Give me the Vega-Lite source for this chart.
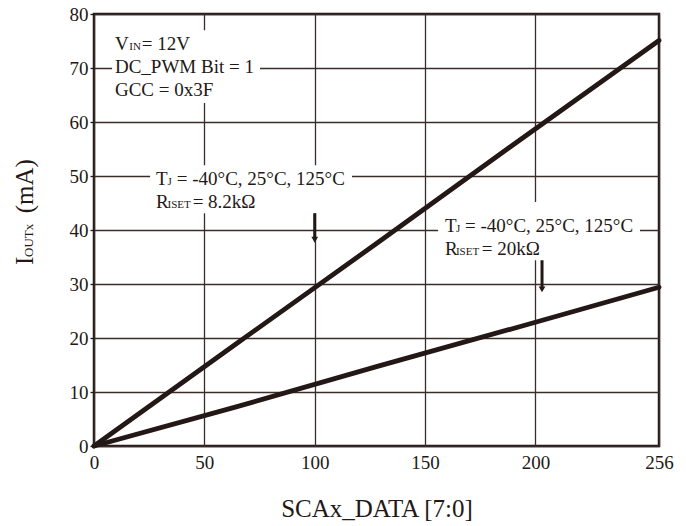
{
  "$schema": "https://vega.github.io/schema/vega-lite/v6.json",
  "width": 565,
  "height": 432,
  "autosize": {"type": "none"},
  "padding": {"left": 94, "top": 14, "right": 27, "bottom": 80},
  "background": "white",
  "datasets": {
    "curves": [
      {"series": "RISET 8.2k", "x": 0, "y": 0},
      {"series": "RISET 8.2k", "x": 64, "y": 18.8},
      {"series": "RISET 8.2k", "x": 128, "y": 37.5},
      {"series": "RISET 8.2k", "x": 192, "y": 56.4},
      {"series": "RISET 8.2k", "x": 256, "y": 75.1},
      {"series": "RISET 20k", "x": 0, "y": 0},
      {"series": "RISET 20k", "x": 64, "y": 7.2},
      {"series": "RISET 20k", "x": 128, "y": 14.7},
      {"series": "RISET 20k", "x": 192, "y": 22.0},
      {"series": "RISET 20k", "x": 256, "y": 29.4}
    ],
    "boxes": [
      {"x": 8.2, "x2": 75.2, "y": 63.5, "y2": 77.0},
      {"x": 25.4, "x2": 116.9, "y": 43.1, "y2": 52.0},
      {"x": 155.9, "x2": 247.4, "y": 34.4, "y2": 45.2}
    ],
    "labels": [
      {"x": 9.5, "y": 73.3, "text": "V"},
      {"x": 21.6, "y": 73.3, "text": "= 12V"},
      {"x": 9.5, "y": 69.1, "text": "DC_PWM Bit = 1"},
      {"x": 9.5, "y": 64.8, "text": "GCC = 0x3F"},
      {"x": 28.1, "y": 48.3, "text": "T"},
      {"x": 37.5, "y": 48.3, "text": "= -40°C, 25°C, 125°C"},
      {"x": 28.1, "y": 44.1, "text": "R"},
      {"x": 44.7, "y": 44.1, "text": "= 8.2kΩ"},
      {"x": 159.0, "y": 39.6, "text": "T"},
      {"x": 168.1, "y": 39.6, "text": "= -40°C, 25°C, 125°C"},
      {"x": 159.0, "y": 35.4, "text": "R"},
      {"x": 175.7, "y": 35.4, "text": "= 20kΩ"}
    ],
    "subs": [
      {"x": 16.0, "y": 73.3, "text": "IN"},
      {"x": 33.3, "y": 48.3, "text": "J"},
      {"x": 33.3, "y": 44.1, "text": "ISET"},
      {"x": 164.0, "y": 39.6, "text": "J"},
      {"x": 164.0, "y": 35.4, "text": "ISET"}
    ],
    "arrows": [
      {"x": 100, "y": 43.1, "y2": 38.6},
      {"x": 203.0, "y": 34.4, "y2": 29.4}
    ],
    "heads": [
      {"x": 100, "y": 38.2},
      {"x": 203.0, "y": 29.0}
    ],
    "ytitle": [
      {"x": -27.6, "y": 33.5, "text": "I"}
    ],
    "ytitlesub": [
      {"x": -27.6, "y": 35.0, "text": "OUTx"}
    ],
    "ytitlerest": [
      {"x": -27.6, "y": 43.1, "text": "(mA)"}
    ]
  },
  "encoding": {
    "x": {
      "field": "x",
      "type": "quantitative",
      "scale": {"domain": [0, 256], "nice": false, "zero": false},
      "axis": {
        "values": [0, 50, 100, 150, 200, 256],
        "ticks": false,
        "tickSize": 0,
        "labelPadding": 7,
        "labelFlush": false,
        "labelOverlap": false,
        "title": "SCAx_DATA [7:0]",
        "titleFontSize": 25,
        "titlePadding": 24,
        "grid": true
      }
    },
    "y": {
      "field": "y",
      "type": "quantitative",
      "scale": {"domain": [0, 80], "nice": false, "zero": false},
      "axis": {
        "values": [0, 10, 20, 30, 40, 50, 60, 70, 80],
        "ticks": true,
        "tickSize": 4,
        "tickWidth": 1.3,
        "labelPadding": 2,
        "labelFlush": false,
        "labelOverlap": false,
        "title": null,
        "grid": true
      }
    }
  },
  "layer": [
    {
      "data": {"name": "boxes"},
      "mark": {"type": "rect", "fill": "white", "strokeWidth": 0},
      "encoding": {"x2": {"field": "x2"}, "y2": {"field": "y2"}}
    },
    {
      "data": {"name": "curves"},
      "mark": {"type": "line", "color": "#231815", "strokeWidth": 4.8, "strokeCap": "round"},
      "encoding": {"detail": {"field": "series"}}
    },
    {
      "data": {"name": "arrows"},
      "mark": {"type": "rule", "color": "#231815", "strokeWidth": 3},
      "encoding": {"y2": {"field": "y2"}}
    },
    {
      "data": {"name": "heads"},
      "mark": {"type": "point", "shape": "triangle-down", "filled": true, "size": 45, "color": "#231815", "opacity": 1},
      "encoding": {}
    },
    {
      "data": {"name": "labels"},
      "mark": {"type": "text", "align": "left", "baseline": "alphabetic", "fontSize": 19, "font": "Liberation Serif", "color": "#231815"},
      "encoding": {"text": {"field": "text"}}
    },
    {
      "data": {"name": "subs"},
      "mark": {"type": "text", "align": "left", "baseline": "alphabetic", "fontSize": 11, "font": "Liberation Serif", "color": "#231815"},
      "encoding": {"text": {"field": "text"}}
    },
    {
      "data": {"name": "ytitle"},
      "mark": {"type": "text", "align": "left", "baseline": "alphabetic", "angle": 270, "fontSize": 25, "font": "Liberation Serif", "color": "#231815"},
      "encoding": {"text": {"field": "text"}}
    },
    {
      "data": {"name": "ytitlesub"},
      "mark": {"type": "text", "align": "left", "baseline": "alphabetic", "angle": 270, "fontSize": 13, "font": "Liberation Serif", "color": "#231815"},
      "encoding": {"text": {"field": "text"}}
    },
    {
      "data": {"name": "ytitlerest"},
      "mark": {"type": "text", "align": "left", "baseline": "alphabetic", "angle": 270, "fontSize": 25, "font": "Liberation Serif", "color": "#231815"},
      "encoding": {"text": {"field": "text"}}
    }
  ],
  "config": {
    "view": {"stroke": "#231815", "strokeWidth": 2.5},
    "axis": {
      "labelFont": "Liberation Serif",
      "labelFontSize": 19,
      "labelColor": "#231815",
      "titleFont": "Liberation Serif",
      "titleFontWeight": "normal",
      "titleColor": "#231815",
      "gridColor": "#3a2c2a",
      "gridOpacity": 1,
      "gridWidth": 1.3,
      "domain": false,
      "tickColor": "#231815"
    }
  }
}
